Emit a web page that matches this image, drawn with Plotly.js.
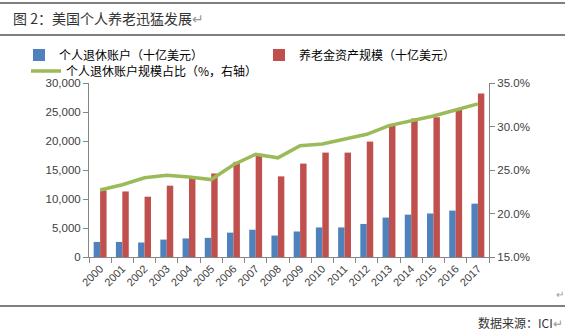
<!DOCTYPE html>
<html><head><meta charset="utf-8">
<script src="https://cdn.plot.ly/plotly-3.0.1.min.js"></script>
<style>body{margin:0;background:#fff}#c{width:575px;height:334px}</style>
</head><body><div id="c"></div>
<script>
var years = ['2000','2001','2002','2003','2004','2005','2006','2007','2008','2009','2010','2011','2012','2013','2014','2015','2016','2017'];
var iraAssets = [2600,2600,2500,3000,3200,3300,4200,4700,3700,4400,5100,5100,5700,6800,7300,7500,8000,9200];
var pensionAssets = [11500,11300,10400,12300,13800,14400,16400,17800,13900,16100,18000,18000,19900,22700,23900,24100,25500,28200];
var iraShare = [22.7,23.3,24.1,24.4,24.2,23.9,25.6,26.8,26.4,27.8,28.0,28.5,29.1,30.1,30.6,31.2,31.9,32.6];
var seriesNames = ['个人退休账户（十亿美元）','养老金资产规模（十亿美元）','个人退休账户规模占比（%，右轴）'];

var FONT = 'Liberation Sans, Noto Sans CJK SC, sans-serif';
var CJK = 'Noto Sans CJK SC, sans-serif';
var data = [
  {type:'bar', x:years, y:iraAssets, name:seriesNames[0], marker:{color:'#4F81BD'}, legend:'legend'},
  {type:'bar', x:years, y:pensionAssets, name:seriesNames[1], marker:{color:'#C0504D'}, legend:'legend2'},
  {type:'scatter', mode:'lines', x:years, y:iraShare, name:seriesNames[2], yaxis:'y2', legend:'legend3',
   line:{color:'#9BBB59', width:3.5}}
];
function leg(xpx, ypx){
  return {orientation:'h', xref:'container', x:xpx/575, xanchor:'left', yref:'container', y:1-ypx/334, yanchor:'middle',
    font:{family:CJK, size:12, color:'#000'}, bgcolor:'rgba(0,0,0,0)', borderwidth:0, itemwidth:30};
}
var layout = {
  width:575, height:334,
  margin:{l:89, r:86, t:83, b:77, autoexpand:false},
  paper_bgcolor:'#fff', plot_bgcolor:'#fff',
  font:{family:FONT, size:11, color:'#404040'},
  barmode:'group', bargap:0.42, bargroupgap:0,
  showlegend:true,
  legend:leg(19, 55), legend2:leg(259, 55), legend3:leg(26, 71),
  xaxis:{type:'category', showline:true, linecolor:'#868686', linewidth:1,
    ticks:'outside', tickson:'boundaries', ticklen:5, tickcolor:'#868686',
    tickangle:-45, tickfont:{size:11, color:'#404040'}, showgrid:false, zeroline:false},
  yaxis:{range:[0,30000], dtick:5000, tickformat:',d', showline:true, linecolor:'#868686',
    ticks:'outside', ticklen:5, tickcolor:'#868686', showgrid:false, zeroline:false,
    tickfont:{size:11.5, color:'#404040'}},
  yaxis2:{overlaying:'y', side:'right', range:[15,35], dtick:5, tickformat:'.1f', ticksuffix:'%',
    showline:true, linecolor:'#868686', ticks:'outside', ticklen:5, tickcolor:'#868686',
    showgrid:false, zeroline:false, tickfont:{size:11.5, color:'#404040'}},
  shapes:[
    {type:'line', xref:'paper', yref:'paper', x0:-89/400, x1:476/400, y0:1+80/174, y1:1+80/174, line:{color:'#000', width:1}},
    {type:'line', xref:'paper', yref:'paper', x0:-89/400, x1:476/400, y0:1+48/174, y1:1+48/174, line:{color:'#000', width:1}},
    {type:'line', xref:'paper', yref:'paper', x0:-89/400, x1:476/400, y0:-49/174, y1:-49/174, line:{color:'#000', width:1}}
  ],
  annotations:[
    {text:'图 2：美国个人养老迅猛发展<span style="color:#999">↵</span>', xref:'paper', yref:'paper', x:-78/400, y:1+65/174,
     xanchor:'left', yanchor:'middle', showarrow:false, font:{family:CJK, size:14, color:'#333'}},
    {text:'数据来源：ICI<span style="color:#999">↵</span>', xref:'paper', yref:'paper', x:476/400, y:-65/174,
     xanchor:'right', yanchor:'middle', showarrow:false, font:{family:CJK, size:12, color:'#333'}},
    {text:'↵', xref:'paper', yref:'paper', x:471/400, y:-36/174, xanchor:'center', yanchor:'middle',
     showarrow:false, font:{family:CJK, size:10, color:'#999'}}
  ]
};
Plotly.newPlot('c', data, layout, {displayModeBar:false, staticPlot:true});
</script></body></html>
